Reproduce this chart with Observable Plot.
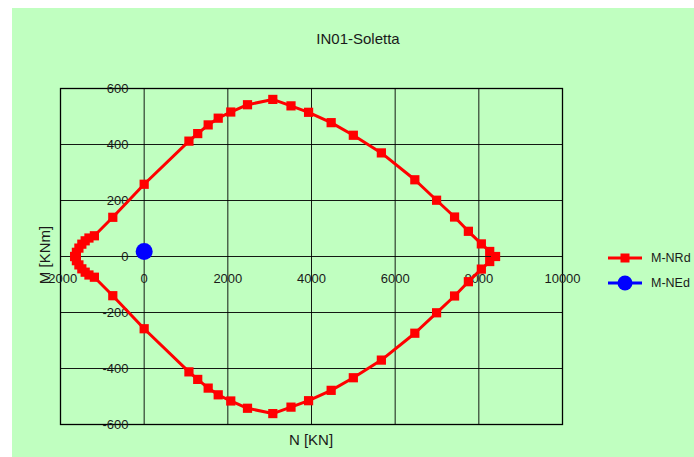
<!DOCTYPE html>
<html>
<head>
<meta charset="utf-8">
<script src="https://cdn.jsdelivr.net/npm/d3@7"></script>
<script src="https://cdn.jsdelivr.net/npm/@observablehq/plot@0.6"></script>
<style>
  html, body { margin: 0; padding: 0; background: #fff; width: 694px; height: 457px; overflow: hidden; font-family: "Liberation Sans", Arial, sans-serif; }
  #bg { position: absolute; left: 12px; top: 8px; width: 682px; height: 449px; background: #C0FFC0; }
  #chart { position: absolute; left: 0; top: 0; }
  #title { position: absolute; left: 258px; width: 200px; top: 30px; text-align: center; font-size: 15px; color: #1a1a1a; }
  #xlabel { position: absolute; left: 261px; width: 100px; top: 431px; text-align: center; font-size: 15px; color: #1a1a1a; }
  #ylabel { position: absolute; left: 44px; top: 255px; transform: translate(-50%, -50%) rotate(-90deg); font-size: 15px; color: #1a1a1a; white-space: nowrap; }
  .leg { position: absolute; left: 606px; font-size: 12.5px; color: #1a1a1a; display: flex; align-items: center; }
  .leg span { margin-left: 7px; }
</style>
</head>
<body>
<div id="bg"></div>
<div id="chart"></div>
<div id="title">IN01-Soletta</div>
<div id="xlabel">N [KN]</div>
<div id="ylabel">M [KNm]</div>
<div class="leg" style="top:249px"><svg width="38" height="18"><line x1="2" y1="9" x2="36" y2="9" stroke="#FF0000" stroke-width="3"/><rect x="14.5" y="4.5" width="9" height="9" fill="#FF0000"/></svg><span>M-NRd</span></div>
<div class="leg" style="top:274px"><svg width="38" height="18"><line x1="2" y1="9" x2="36" y2="9" stroke="#0000FF" stroke-width="3"/><circle cx="19" cy="9" r="7.5" fill="#0000FF"/></svg><span>M-NEd</span></div>
<script>
// M-NRd interaction domain (upper branch, left to right)
const nUpper = [-1660, -1620, -1560, -1490, -1410, -1320, -1190, -750, 0, 1070, 1280, 1530, 1770, 2070, 2470, 3075, 3510, 3930, 4470, 5000, 5670, 6470, 6990, 7420, 7750, 8060, 8260, 8400];
const mUpper = [0, 15, 30, 44, 56, 66, 74, 140, 258, 412, 439, 470, 494, 516, 542, 561, 538, 515, 478, 433, 370, 274, 201, 141, 90, 45, 18, 0];
// lower branch (right to left)
const nLower = [8260, 8060, 7750, 7420, 6990, 6470, 5670, 5000, 4470, 3930, 3510, 3075, 2470, 2070, 1770, 1530, 1280, 1070, 0, -750, -1190, -1320, -1410, -1490, -1560, -1620, -1660];
const mLower = [-18, -45, -90, -141, -201, -274, -370, -433, -478, -515, -538, -561, -542, -516, -494, -470, -439, -412, -258, -140, -74, -66, -56, -44, -30, -15, 0];
// M-NEd design point
const nEd = [0];
const mEd = [18];
// ticks
const xTicks = [-2000, 0, 2000, 4000, 6000, 8000, 10000];
const yTicks = [-600, -400, -200, 0, 200, 400, 600];

const nrd = nUpper.map((n, i) => ({N: n, M: mUpper[i]})).concat(nLower.map((n, i) => ({N: n, M: mLower[i]})));
const ned = nEd.map((n, i) => ({N: n, M: mEd[i]}));

const chart = Plot.plot({
  width: 694,
  height: 457,
  marginLeft: 60,
  marginRight: 132,
  marginTop: 88,
  marginBottom: 33,
  style: {background: "transparent", fontFamily: "Liberation Sans, Arial, sans-serif", fontSize: "13px", color: "#1a1a1a"},
  x: {domain: [-2000, 10000], axis: null},
  y: {domain: [-600, 600], axis: null},
  marks: [
    Plot.gridX(xTicks, {stroke: "#000", strokeOpacity: 0.9}),
    Plot.gridY(yTicks, {stroke: "#000", strokeOpacity: 0.9}),
    Plot.frame({stroke: "#000", strokeWidth: 1.3}),
    Plot.text(yTicks, {x: -2000, y: d => d, dx: 68, textAnchor: "end", text: d => String(d), fill: "#1a1a1a", fontSize: 13}),
    Plot.text(xTicks, {x: d => d, y: 0, dy: 22, text: d => String(d), fill: "#1a1a1a", fontSize: 13}),
    Plot.line(nrd, {x: "N", y: "M", stroke: "#FF0000", strokeWidth: 3, curve: "linear"}),
    Plot.dot(nrd, {x: "N", y: "M", symbol: "square", r: 5.2, fill: "#FF0000"}),
    Plot.dot(ned, {x: "N", y: "M", r: 8.5, fill: "#0000FF"})
  ]
});
document.getElementById("chart").appendChild(chart);
</script>
</body>
</html>
